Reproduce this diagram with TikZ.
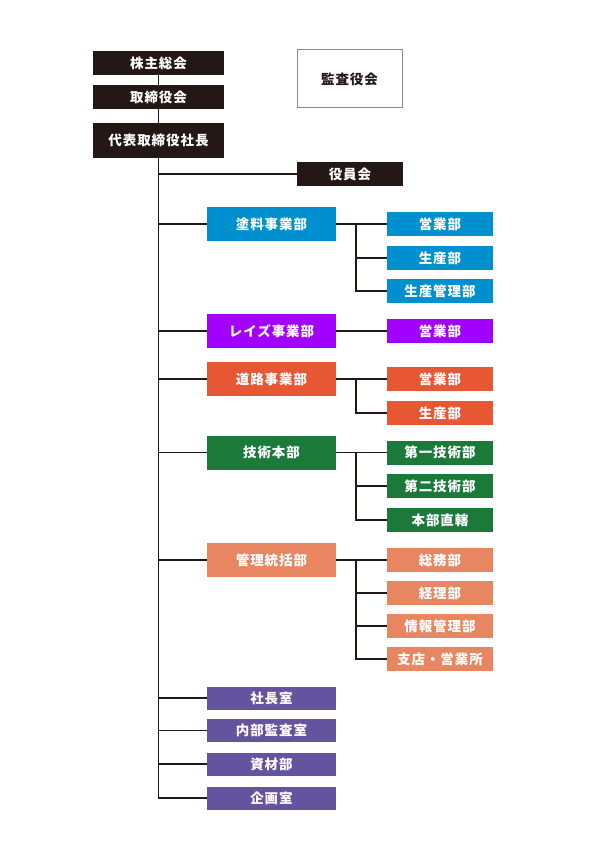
\documentclass[tikz,border=0pt]{standalone}
\usepackage{fontspec}
\newfontfamily\jp{Noto Sans CJK JP}[LetterSpace=7]
\definecolor{ink}{HTML}{231815}
\definecolor{cblue}{HTML}{0090D0}
\definecolor{cviolet}{HTML}{A200FF}
\definecolor{cred}{HTML}{E85734}
\definecolor{cgreen}{HTML}{1B7A3A}
\definecolor{csalmon}{HTML}{E88661}
\definecolor{cindigo}{HTML}{6454A0}
\definecolor{cgrey}{HTML}{8A8A8A}
\begin{document}
\begin{tikzpicture}[x=1pt,y=-1pt,
  box/.style={inner sep=0pt,outer sep=0pt,text=white,font=\jp\bfseries\fontsize{13.5}{14}\selectfont},
  topbox/.style={box,fill=ink,minimum width=131pt,minimum height=24pt},
  divbox/.style={box,minimum width=129pt,minimum height=34pt},
  subbox/.style={box,minimum width=106pt,minimum height=24pt},
  lowbox/.style={box,fill=cindigo,minimum width=129pt,minimum height=23pt},
  link/.style={draw=ink,line width=1.8pt}]
\useasboundingbox (0,0) rectangle (596,842);
% top
\node[topbox] (kabu) at (158.5,63) {株主総会};
\node[topbox] (tori) at (158.5,97) {取締役会};
\node[topbox,minimum height=35pt] (pres) at (158.5,140.5) {代表取締役社長};
\node[box,text=ink,draw=cgrey,line width=1pt,minimum width=105pt,minimum height=58pt] (kansa) at (349.5,79) {監査役会};
\node[subbox,fill=ink] (yakuin) at (350,174) {役員会};
% divisions
\node[divbox,fill=cblue] (toryo) at (271.5,224) {塗料事業部};
\node[divbox,fill=cviolet] (raise) at (271.5,331) {レイズ事業部};
\node[divbox,fill=cred] (doro) at (271.5,379) {道路事業部};
\node[divbox,fill=cgreen] (giju) at (271.5,452.5) {技術本部};
\node[divbox,fill=csalmon] (kanri) at (271.5,560) {管理統括部};
% subs
\node[subbox,fill=cblue] (t1) at (440,224) {営業部};
\node[subbox,fill=cblue] (t2) at (440,258) {生産部};
\node[subbox,fill=cblue] (t3) at (440,291) {生産管理部};
\node[subbox,fill=cviolet] (r1) at (440,331) {営業部};
\node[subbox,fill=cred] (d1) at (440,379) {営業部};
\node[subbox,fill=cred] (d2) at (440,413) {生産部};
\node[subbox,fill=cgreen] (g1) at (440,452.5) {第一技術部};
\node[subbox,fill=cgreen] (g2) at (440,486) {第二技術部};
\node[subbox,fill=cgreen] (g3) at (440,520) {本部直轄};
\node[subbox,fill=csalmon] (k1) at (440,560) {総務部};
\node[subbox,fill=csalmon] (k2) at (440,593) {経理部};
\node[subbox,fill=csalmon] (k3) at (440,626) {情報管理部};
\node[subbox,fill=csalmon] (k4) at (440,659) {支店・営業所};
% lower offices
\node[lowbox] (shacho) at (271.5,698) {社長室};
\node[lowbox] (naibu) at (271.5,730.5) {内部監査室};
\node[lowbox] (shizai) at (271.5,764) {資材部};
\node[lowbox] (kikaku) at (271.5,798) {企画室};
\coordinate (bus) at (356,0);
% connectors
\draw[link] (kabu) -- (tori);
\draw[link] (tori) -- (pres);
\draw[link] (pres.south) -- (pres.south |- kikaku.west) -- (kikaku.west);
\foreach \n in {yakuin,toryo,raise,doro,giju,kanri,shacho,naibu,shizai}
  \draw[link] (pres.south |- \n.west) -- (\n.west);
\draw[link] (toryo.east) -- (t1.west);
\draw[link] (t1.west -| bus) |- (t3.west);
\draw[link] (bus |- t2.west) -- (t2.west);
\draw[link] (raise.east) -- (r1.west);
\draw[link] (doro.east) -- (d1.west);
\draw[link] (d1.west -| bus) |- (d2.west);
\draw[link] (giju.east) -- (g1.west);
\draw[link] (g1.west -| bus) |- (g3.west);
\draw[link] (bus |- g2.west) -- (g2.west);
\draw[link] (kanri.east) -- (k1.west);
\draw[link] (k1.west -| bus) |- (k4.west);
\draw[link] (bus |- k2.west) -- (k2.west);
\draw[link] (bus |- k3.west) -- (k3.west);
\end{tikzpicture}
\end{document}
